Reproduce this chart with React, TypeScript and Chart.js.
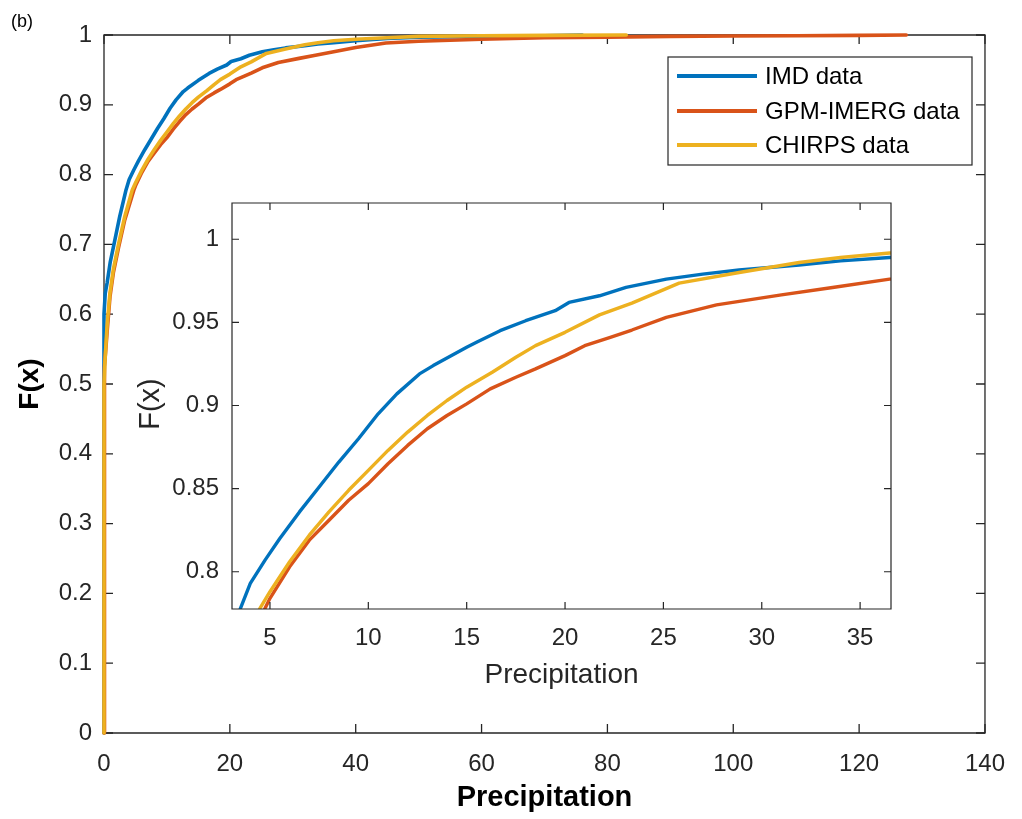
import React, { useEffect, useRef } from "react";
import { Chart, registerables } from "chart.js";

Chart.register(...registerables);

// ---------- data ----------
const imdPrecip = [0, 0, 0.2, 0.5, 1.0, 1.7, 2.5, 3.5, 4.0, 4.75, 5.5, 6.5, 7.5, 8.5, 9.5, 10.5, 11.45, 12.6, 13.3, 15.0, 15.5, 16.7, 18.0, 19.5, 20.2, 21.75, 23.1, 25.15, 27, 28.85, 31.9, 34, 36.5, 40, 45, 50, 60, 70, 76];
const imdCdf = [0, 0.6, 0.63, 0.645, 0.675, 0.705, 0.74, 0.778, 0.793, 0.807, 0.82, 0.836, 0.851, 0.866, 0.88, 0.895, 0.907, 0.919, 0.924, 0.935, 0.938, 0.945, 0.951, 0.957, 0.962, 0.966, 0.971, 0.976, 0.979, 0.9815, 0.9845, 0.987, 0.989, 0.992, 0.995, 0.997, 0.998, 0.999, 1.0];

const gpmPrecip = [0, 0, 0.15, 0.5, 0.95, 1.5, 2.3, 3.3, 4.75, 5, 6, 7, 8, 9, 10, 11, 12, 13, 14, 15, 16.2, 17.5, 18.5, 20, 21, 22.3, 23.4, 25.15, 27.7, 31, 33.6, 36.5, 40, 44.8, 50, 60, 70, 80, 90, 100, 110, 120, 127.5];
const gpmCdf = [0, 0.49, 0.525, 0.575, 0.625, 0.66, 0.695, 0.735, 0.778, 0.784, 0.803, 0.819, 0.831, 0.843, 0.853, 0.865, 0.876, 0.886, 0.894, 0.901, 0.91, 0.917, 0.922, 0.93, 0.936, 0.941, 0.9454, 0.953, 0.9605, 0.9665, 0.971, 0.976, 0.982, 0.9885, 0.991, 0.994, 0.996, 0.997, 0.998, 0.9985, 0.999, 0.9995, 1];

const chirpsPrecip = [0, 0, 0.16, 0.5, 0.94, 1.5, 2.3, 3.3, 4.49, 5, 6, 7, 8, 9, 10, 11, 12, 13, 14, 15, 16.3, 17.5, 18.5, 20, 21.75, 23.4, 25.8, 28.85, 31.9, 34, 36.5, 40, 45, 50, 60, 70, 83];
const chirpsCdf = [0, 0.5, 0.534, 0.585, 0.63, 0.665, 0.7, 0.74, 0.778, 0.788, 0.806, 0.822, 0.836, 0.849, 0.861, 0.873, 0.884, 0.894, 0.903, 0.911, 0.92, 0.929, 0.936, 0.944, 0.9545, 0.9616, 0.9736, 0.98, 0.986, 0.989, 0.9917, 0.994, 0.996, 0.998, 0.999, 0.9995, 1];

const seriesLabels = ["IMD data", "GPM-IMERG data", "CHIRPS data"];
const seriesColors = ["#0072BD", "#D95319", "#EDB120"];

const mainXTicks = [0, 20, 40, 60, 80, 100, 120, 140];
const mainYTicks = [0, 0.1, 0.2, 0.3, 0.4, 0.5, 0.6, 0.7, 0.8, 0.9, 1];
const insetXTicks = [5, 10, 15, 20, 25, 30, 35];
const insetYTicks = [0.8, 0.85, 0.9, 0.95, 1];

const FONT = "'Liberation Sans', Arial, Helvetica, sans-serif";
const AXIS = "#262626";

function toPoints(xs: number[], ys: number[]) {
  return xs.map((x, i) => ({ x, y: ys[i] }));
}

function makeDatasets(lw: number, clip: any) {
  const xs = [imdPrecip, gpmPrecip, chirpsPrecip];
  const ys = [imdCdf, gpmCdf, chirpsCdf];
  return xs.map((x, i) => ({
    label: seriesLabels[i],
    data: toPoints(x, ys[i]),
    borderColor: seriesColors[i],
    backgroundColor: seriesColors[i],
    borderWidth: lw,
    pointRadius: 0,
    tension: 0,
    fill: false,
    clip,
    order: 3 - i,
    borderJoinStyle: "round" as const,
    borderCapStyle: "round" as const,
  }));
}

function fmt(v: number) {
  return String(Number(v.toFixed(3)));
}

function boxAndTicks(chart: any, tickLen: number, lw: number, xt: number[], yt: number[]) {
  const { ctx, chartArea } = chart;
  const { left, right, top, bottom } = chartArea;
  const xs = chart.scales.x;
  const ys = chart.scales.y;
  ctx.save();
  ctx.strokeStyle = AXIS;
  ctx.lineWidth = lw;
  ctx.beginPath();
  ctx.rect(left, top, right - left, bottom - top);
  ctx.stroke();
  ctx.beginPath();
  xt.forEach((v) => {
    const p = xs.getPixelForValue(v);
    ctx.moveTo(p, bottom);
    ctx.lineTo(p, bottom - tickLen);
    ctx.moveTo(p, top);
    ctx.lineTo(p, top + tickLen);
  });
  yt.forEach((v) => {
    const p = ys.getPixelForValue(v);
    ctx.moveTo(left, p);
    ctx.lineTo(left + tickLen, p);
    ctx.moveTo(right, p);
    ctx.lineTo(right - tickLen, p);
  });
  ctx.stroke();
  ctx.restore();
}

const INSET_LEFT = 130;
const INSET_TOP = 175;

export default function App() {
  const mainRef = useRef<HTMLCanvasElement | null>(null);
  const insetRef = useRef<HTMLCanvasElement | null>(null);

  useEffect(() => {
    const mainPlugin = {
      id: "mainDecor",
      beforeDatasetsDraw(chart: any) {
        boxAndTicks(chart, 9, 1.3, mainXTicks, mainYTicks);
      },
      afterDraw(chart: any) {
        const { ctx, chartArea } = chart;
        ctx.save();
        ctx.fillStyle = "#000";
        ctx.font = `bold 29px ${FONT}`;
        ctx.textAlign = "center";
        ctx.textBaseline = "alphabetic";
        ctx.fillText("Precipitation", (chartArea.left + chartArea.right) / 2, 806);
        ctx.save();
        ctx.translate(30, (chartArea.top + chartArea.bottom) / 2);
        ctx.rotate(-Math.PI / 2);
        ctx.textBaseline = "middle";
        ctx.font = `bold 28px ${FONT}`;
        ctx.fillText("F(x)", 0, 0);
        ctx.restore();
        ctx.font = `18px ${FONT}`;
        ctx.textAlign = "left";
        ctx.textBaseline = "middle";
        ctx.fillText("(b)", 11, 22);
        // legend
        const bx = 668, by = 57, bw = 304, bh = 108;
        ctx.fillStyle = "#fff";
        ctx.fillRect(bx, by, bw, bh);
        ctx.strokeStyle = AXIS;
        ctx.lineWidth = 1.2;
        ctx.strokeRect(bx, by, bw, bh);
        const rows = [76, 111, 145];
        chart.data.datasets.forEach((ds: any, i: number) => {
          ctx.strokeStyle = ds.borderColor;
          ctx.lineWidth = 4;
          ctx.beginPath();
          ctx.moveTo(677, rows[i]);
          ctx.lineTo(757, rows[i]);
          ctx.stroke();
          ctx.fillStyle = "#000";
          ctx.font = `24px ${FONT}`;
          ctx.textAlign = "left";
          ctx.textBaseline = "middle";
          ctx.fillText(ds.label, 765, rows[i] + 1);
        });
        ctx.restore();
      },
    };

    const insetPlugin = {
      id: "insetDecor",
      beforeDatasetsDraw(chart: any) {
        const { ctx, chartArea } = chart;
        ctx.save();
        ctx.fillStyle = "#fff";
        ctx.fillRect(chartArea.left, chartArea.top, chartArea.right - chartArea.left, chartArea.bottom - chartArea.top);
        ctx.restore();
      },
      afterDatasetsDraw(chart: any) {
        boxAndTicks(chart, 7, 1.2, insetXTicks, insetYTicks);
      },
      afterDraw(chart: any) {
        const { ctx, chartArea } = chart;
        ctx.save();
        ctx.fillStyle = AXIS;
        ctx.font = `28px ${FONT}`;
        ctx.textAlign = "center";
        ctx.textBaseline = "middle";
        ctx.fillText("Precipitation", (chartArea.left + chartArea.right) / 2, 675 - INSET_TOP);
        ctx.translate(151 - INSET_LEFT, 404 - INSET_TOP);
        ctx.rotate(-Math.PI / 2);
        ctx.font = `29px ${FONT}`;
        ctx.fillText("F(x)", 0, 0);
        ctx.restore();
      },
    };

    const tickFont = { family: FONT, size: 24 };

    const main = new Chart(mainRef.current as HTMLCanvasElement, {
      type: "line",
      data: { datasets: makeDatasets(3.6, 6) as any },
      options: {
        responsive: false,
        animation: false,
        devicePixelRatio: 1,
        layout: { padding: { top: 35, right: 29, left: 0, bottom: 0 } },
        plugins: { legend: { display: false }, tooltip: { enabled: false } },
        scales: {
          x: {
            type: "linear",
            min: 0,
            max: 140,
            afterFit: (s: any) => { s.height = 86; },
            afterBuildTicks: (s: any) => { s.ticks = mainXTicks.map((v) => ({ value: v })); },
            grid: { display: false, drawTicks: false },
            border: { display: false },
            ticks: { padding: 17, color: AXIS, font: tickFont, maxRotation: 0, autoSkip: false, callback: (v: any) => fmt(Number(v)) },
          },
          y: {
            type: "linear",
            min: 0,
            max: 1,
            afterFit: (s: any) => { s.width = 104; },
            afterBuildTicks: (s: any) => { s.ticks = mainYTicks.map((v) => ({ value: v })); },
            grid: { display: false, drawTicks: false },
            border: { display: false },
            ticks: { padding: 12, color: AXIS, font: tickFont, autoSkip: false, callback: (v: any) => fmt(Number(v)) },
          },
        },
      },
      plugins: [mainPlugin],
    });

    const inset = new Chart(insetRef.current as HTMLCanvasElement, {
      type: "line",
      data: { datasets: makeDatasets(3.4, 0) as any },
      options: {
        responsive: false,
        animation: false,
        devicePixelRatio: 1,
        layout: { padding: { top: 203 - INSET_TOP, right: 19, left: 0, bottom: 0 } },
        plugins: { legend: { display: false }, tooltip: { enabled: false } },
        scales: {
          x: {
            type: "linear",
            min: 3.07,
            max: 36.57,
            afterFit: (s: any) => { s.height = 96; },
            afterBuildTicks: (s: any) => { s.ticks = insetXTicks.map((v) => ({ value: v })); },
            grid: { display: false, drawTicks: false },
            border: { display: false },
            ticks: { padding: 15, color: AXIS, font: tickFont, maxRotation: 0, autoSkip: false, callback: (v: any) => fmt(Number(v)) },
          },
          y: {
            type: "linear",
            min: 0.7776,
            max: 1.0218,
            afterFit: (s: any) => { s.width = 102; },
            afterBuildTicks: (s: any) => { s.ticks = insetYTicks.map((v) => ({ value: v })); },
            grid: { display: false, drawTicks: false },
            border: { display: false },
            ticks: { padding: 13, color: AXIS, font: tickFont, autoSkip: false, callback: (v: any) => fmt(Number(v)) },
          },
        },
      },
      plugins: [insetPlugin],
    });

    return () => {
      main.destroy();
      inset.destroy();
    };
  }, []);

  return (
    <div style={{ position: "absolute", left: 0, top: 0, width: 1022, height: 819, background: "#fff" }}>
      <canvas ref={mainRef} width={1022} height={819} style={{ position: "absolute", left: 0, top: 0, width: 1022, height: 819 }} />
      <canvas ref={insetRef} width={780} height={530} style={{ position: "absolute", left: INSET_LEFT, top: INSET_TOP, width: 780, height: 530 }} />
    </div>
  );
}
